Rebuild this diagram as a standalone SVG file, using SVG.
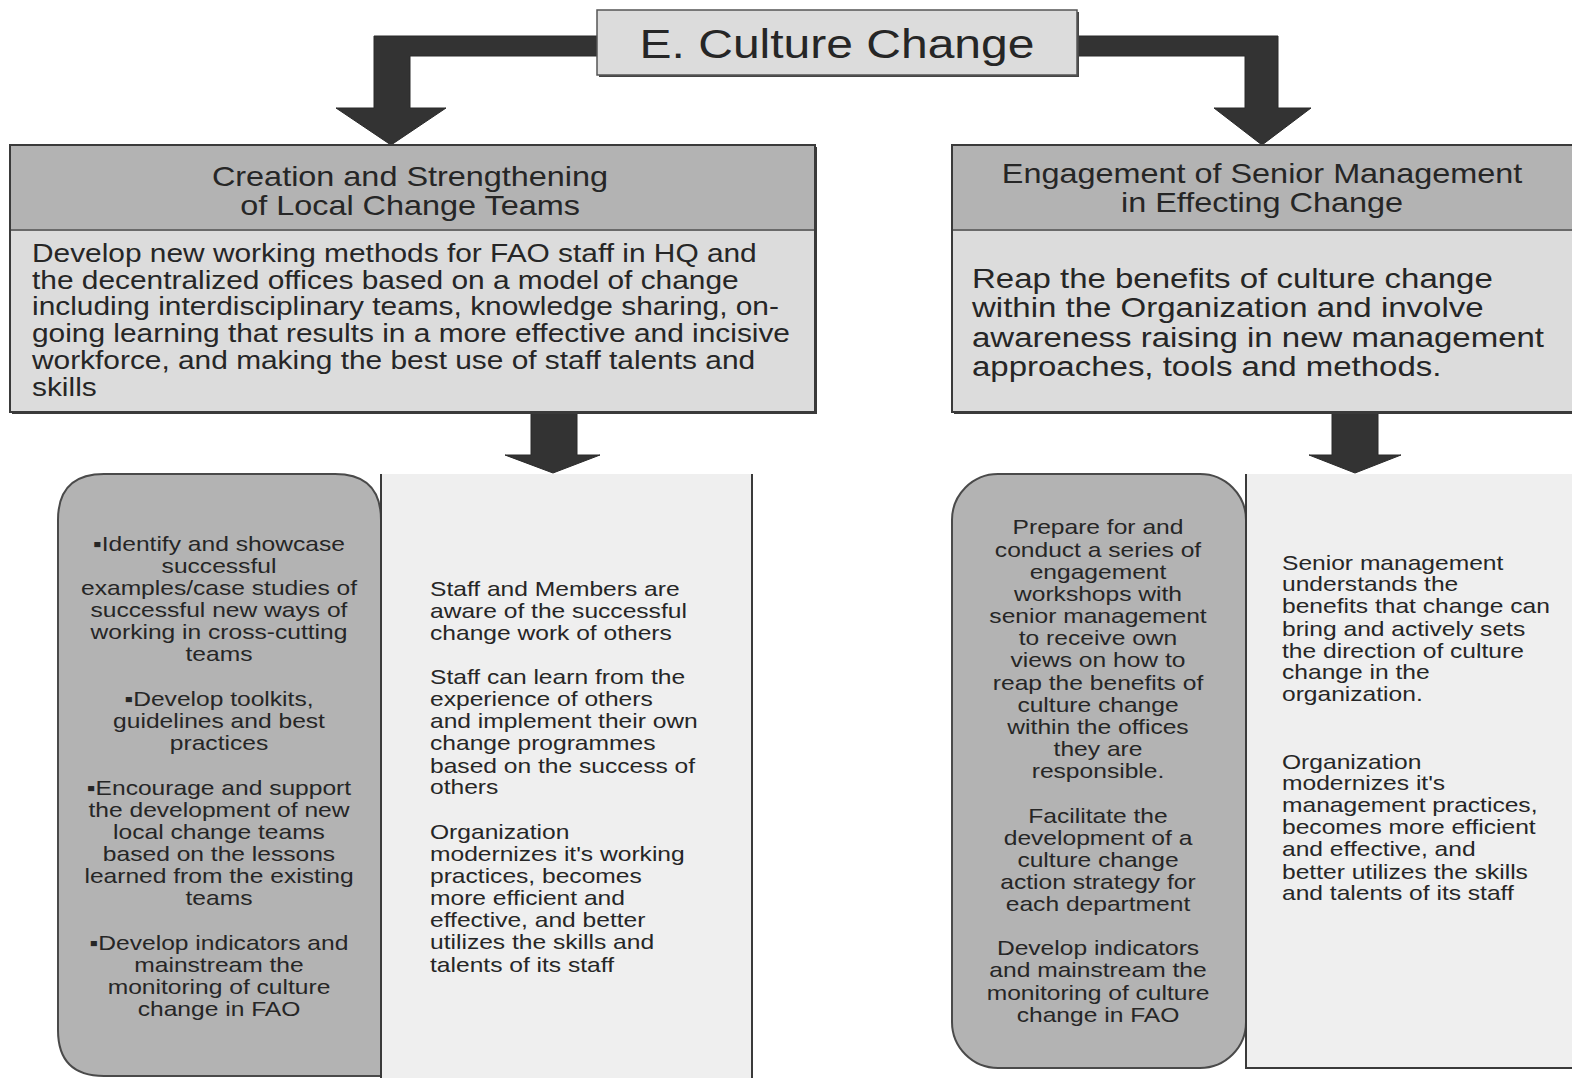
<svg xmlns="http://www.w3.org/2000/svg" width="1572" height="1078" viewBox="0 0 1572 1078">
  <style>
    .txt { font-family: "Liberation Sans", Arial, sans-serif; fill: #262626; }
    .title { font-size: 40px; text-anchor: middle; }
    .head { font-size: 27px; text-anchor: middle; }
    .body-l { font-size: 25px; }
    .body-r { font-size: 27.5px; }
    .small { font-size: 20.5px; }
    .mid { text-anchor: middle; }
    .band { fill: #b3b3b3; }
    .pale { fill: #dcdcdc; }
    .frame { fill: none; stroke: #3a3a3a; stroke-width: 2; }
    .pill { fill: #b3b3b3; stroke: #4a4a4a; stroke-width: 2; }
    .panel { fill: #efefef; }
    .edge { stroke: #3a3a3a; stroke-width: 2; }
    .arrow { fill: #333333; stroke: #2a2a2a; stroke-width: 1; stroke-linejoin: round; }
  </style>

  <rect width="1572" height="1078" fill="#ffffff"/>

  <!-- connectors: bent block arrows from the title, straight block arrows below the headers -->
  <g id="connectors">
    <path class="arrow" d="M597,36 L374,36 L374,108 L336,108 L391,145 L446,108 L410,108 L410,56 L597,56 Z"/>
    <path class="arrow" d="M1077,36 L1278,36 L1278,108 L1311,108 L1262,145 L1214,108 L1245,108 L1245,56 L1077,56 Z"/>
    <path class="arrow" d="M531,412 L577,412 L577,455 L600,455 L553,473 L505,455 L531,455 Z"/>
    <path class="arrow" d="M1332,412 L1378,412 L1378,455 L1401,455 L1355,473 L1309,455 L1332,455 Z"/>
  </g>

  <!-- title -->
  <g id="title">
    <rect x="599" y="12" width="480" height="65" fill="#444"/>
    <rect x="597" y="10" width="480" height="65" fill="#dcdcdc" stroke="#555" stroke-width="1.5"/>
    <g transform="translate(837,1) scale(1.2,1)">
      <text class="txt title" x="0" y="57">E. Culture Change</text>
    </g>
  </g>

  <!-- left header box -->
  <g id="local-teams">
    <rect x="12" y="147" width="805" height="267" fill="#3a3a3a"/>
    <rect x="10" y="145" width="805" height="85" class="band"/>
    <rect x="10" y="230" width="805" height="182" class="pale"/>
    <line x1="10" y1="230" x2="815" y2="230" stroke="#6a6a6a" stroke-width="2"/>
    <rect x="10" y="145" width="805" height="267" class="frame"/>
    <g transform="translate(410,2) scale(1.2,1)">
      <text class="txt head" x="0" y="184">Creation and Strengthening</text>
      <text class="txt head" x="0" y="213">of Local Change Teams</text>
    </g>
    <g transform="translate(32,2) scale(1.195,1)">
      <text class="txt body-l" x="0" y="260">Develop new working methods for FAO staff in HQ and</text>
      <text class="txt body-l" x="0" y="287">the decentralized offices based on a model of change</text>
      <text class="txt body-l" x="0" y="313">including interdisciplinary teams, knowledge sharing, on-</text>
      <text class="txt body-l" x="0" y="340">going learning that results in a more effective and incisive</text>
      <text class="txt body-l" x="0" y="367">workforce, and making the best use of staff talents and</text>
      <text class="txt body-l" x="0" y="394">skills</text>
    </g>
  </g>

  <!-- right header box -->
  <g id="senior-management">
    <rect x="954" y="147" width="630" height="267" fill="#3a3a3a"/>
    <rect x="952" y="145" width="630" height="85" class="band"/>
    <rect x="952" y="230" width="630" height="182" class="pale"/>
    <line x1="952" y1="230" x2="1582" y2="230" stroke="#6a6a6a" stroke-width="2"/>
    <rect x="952" y="145" width="630" height="267" class="frame"/>
    <g transform="translate(1262,2) scale(1.2,1)">
      <text class="txt head" x="0" y="181">Engagement of Senior Management</text>
      <text class="txt head" x="0" y="210">in Effecting Change</text>
    </g>
    <g transform="translate(972,2) scale(1.2,1)">
      <text class="txt body-r" x="0" y="286">Reap the benefits of culture change</text>
      <text class="txt body-r" x="0" y="315">within the Organization and involve</text>
      <text class="txt body-r" x="0" y="345">awareness raising in new management</text>
      <text class="txt body-r" x="0" y="374">approaches, tools and methods.</text>
    </g>
  </g>

  <!-- left activities -->
  <g id="local-activities">
    <path class="pill" d="M381,1080 L381,520 Q381,474 335,474 L104,474 Q58,474 58,520 L58,1030 Q58,1076 104,1076 L381,1076"/>
    <g transform="translate(219,2) scale(1.2,1)">
      <text class="txt small mid" x="0" y="549">▪Identify and showcase</text>
      <text class="txt small mid" x="0" y="571">successful</text>
      <text class="txt small mid" x="0" y="593">examples/case studies of</text>
      <text class="txt small mid" x="0" y="615">successful new ways of</text>
      <text class="txt small mid" x="0" y="637">working in cross-cutting</text>
      <text class="txt small mid" x="0" y="659">teams</text>
      <text class="txt small mid" x="0" y="704">▪Develop toolkits,</text>
      <text class="txt small mid" x="0" y="726">guidelines and best</text>
      <text class="txt small mid" x="0" y="748">practices</text>
      <text class="txt small mid" x="0" y="793">▪Encourage and support</text>
      <text class="txt small mid" x="0" y="815">the development of new</text>
      <text class="txt small mid" x="0" y="837">local change teams</text>
      <text class="txt small mid" x="0" y="859">based on the lessons</text>
      <text class="txt small mid" x="0" y="881">learned from the existing</text>
      <text class="txt small mid" x="0" y="903">teams</text>
      <text class="txt small mid" x="0" y="948">▪Develop indicators and</text>
      <text class="txt small mid" x="0" y="970">mainstream the</text>
      <text class="txt small mid" x="0" y="992">monitoring of culture</text>
      <text class="txt small mid" x="0" y="1014">change in FAO</text>
    </g>
  </g>

  <!-- left outcomes -->
  <g id="local-outcomes">
    <rect x="381" y="474" width="371" height="610" class="panel"/>
    <line x1="381" y1="474" x2="381" y2="1078" class="edge"/>
    <line x1="752" y1="474" x2="752" y2="1078" class="edge"/>
    <g transform="translate(430,2) scale(1.2,1)">
      <text class="txt small" x="0" y="594">Staff and Members are</text>
      <text class="txt small" x="0" y="616">aware of the successful</text>
      <text class="txt small" x="0" y="638">change work of others</text>
      <text class="txt small" x="0" y="682">Staff can learn from the</text>
      <text class="txt small" x="0" y="704">experience of others</text>
      <text class="txt small" x="0" y="726">and implement their own</text>
      <text class="txt small" x="0" y="748">change programmes</text>
      <text class="txt small" x="0" y="771">based on the success of</text>
      <text class="txt small" x="0" y="792">others</text>
      <text class="txt small" x="0" y="837">Organization</text>
      <text class="txt small" x="0" y="859">modernizes it's working</text>
      <text class="txt small" x="0" y="881">practices, becomes</text>
      <text class="txt small" x="0" y="903">more efficient and</text>
      <text class="txt small" x="0" y="925">effective, and better</text>
      <text class="txt small" x="0" y="947">utilizes the skills and</text>
      <text class="txt small" x="0" y="970">talents of its staff</text>
    </g>
  </g>

  <!-- right activities -->
  <g id="senior-activities">
    <rect x="952" y="474" width="294" height="594" rx="46" ry="46" class="pill"/>
    <g transform="translate(1098,2) scale(1.2,1)">
      <text class="txt small mid" x="0" y="532">Prepare for and</text>
      <text class="txt small mid" x="0" y="555">conduct a series of</text>
      <text class="txt small mid" x="0" y="577">engagement</text>
      <text class="txt small mid" x="0" y="599">workshops with</text>
      <text class="txt small mid" x="0" y="621">senior management</text>
      <text class="txt small mid" x="0" y="643">to receive own</text>
      <text class="txt small mid" x="0" y="665">views on how to</text>
      <text class="txt small mid" x="0" y="688">reap the benefits of</text>
      <text class="txt small mid" x="0" y="710">culture change</text>
      <text class="txt small mid" x="0" y="732">within the offices</text>
      <text class="txt small mid" x="0" y="754">they are</text>
      <text class="txt small mid" x="0" y="776">responsible.</text>
      <text class="txt small mid" x="0" y="821">Facilitate the</text>
      <text class="txt small mid" x="0" y="843">development of a</text>
      <text class="txt small mid" x="0" y="865">culture change</text>
      <text class="txt small mid" x="0" y="887">action strategy for</text>
      <text class="txt small mid" x="0" y="909">each department</text>
      <text class="txt small mid" x="0" y="953">Develop indicators</text>
      <text class="txt small mid" x="0" y="975">and mainstream the</text>
      <text class="txt small mid" x="0" y="998">monitoring of culture</text>
      <text class="txt small mid" x="0" y="1020">change in FAO</text>
    </g>
  </g>

  <!-- right outcomes -->
  <g id="senior-outcomes">
    <rect x="1246" y="474" width="340" height="594" class="panel"/>
    <line x1="1246" y1="474" x2="1246" y2="1069" class="edge"/>
    <line x1="1246" y1="1068" x2="1580" y2="1068" class="edge"/>
    <g transform="translate(1282,2) scale(1.2,1)">
      <text class="txt small" x="0" y="568">Senior management</text>
      <text class="txt small" x="0" y="589">understands the</text>
      <text class="txt small" x="0" y="611">benefits that change can</text>
      <text class="txt small" x="0" y="634">bring and actively sets</text>
      <text class="txt small" x="0" y="656">the direction of culture</text>
      <text class="txt small" x="0" y="677">change in the</text>
      <text class="txt small" x="0" y="699">organization.</text>
      <text class="txt small" x="0" y="767">Organization</text>
      <text class="txt small" x="0" y="788">modernizes it's</text>
      <text class="txt small" x="0" y="810">management practices,</text>
      <text class="txt small" x="0" y="832">becomes more efficient</text>
      <text class="txt small" x="0" y="854">and effective, and</text>
      <text class="txt small" x="0" y="877">better utilizes the skills</text>
      <text class="txt small" x="0" y="898">and talents of its staff</text>
    </g>
  </g>
</svg>
